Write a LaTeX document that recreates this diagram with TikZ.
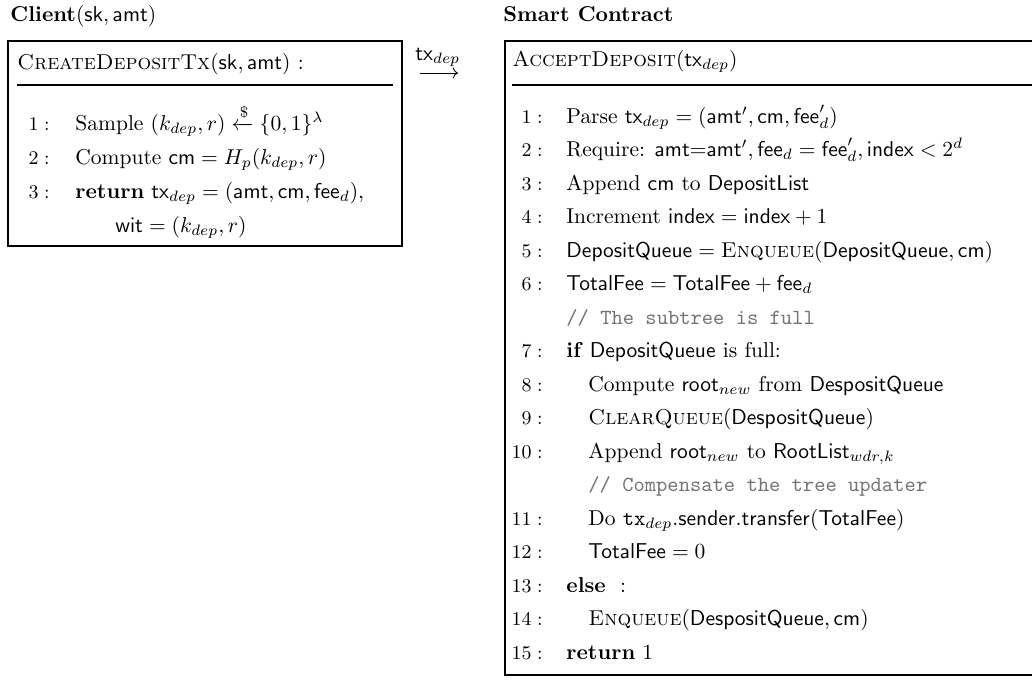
\documentclass[tikz,border=0pt]{standalone}
\usepackage{amsmath}
\usetikzlibrary{arrows.meta}
\begin{document}
\begin{tikzpicture}[x=0.465pt,y=-0.465pt,
  ln/.style={anchor=base west, inner sep=0pt},
  num/.style={anchor=base east, inner sep=0pt, font=\small},
  cmt/.style={anchor=base west, inner sep=0pt, text=black!55, font=\ttfamily},
  frame/.style={draw, line width=0.75pt},
  rulel/.style={draw, line width=0.6pt}]
\clip (0,0) rectangle (1032,680);
% titles
\node[ln] (tc) at (10,21) {\textbf{Client}$(\mathsf{sk}, \mathsf{amt})$};
\node[ln] (ts) at (503,21) {\textbf{Smart Contract}};
% left box
\draw[frame] (8,41) rectangle (402,246);
\node[ln] (lh) at (17,69) {\textsc{CreateDepositTx}$(\mathsf{sk}, \mathsf{amt})$ :};
\draw[rulel] (17,85) -- (393,85);
\node[num] (ln1) at (50,130) {$1:$};
\node[ln] (lt1) at (75,130) {Sample $(k_{dep}, r) \xleftarrow{\$} \{0,1\}^\lambda$};
\node[num] (ln2) at (50,164) {$2:$};
\node[ln] (lt2) at (75,164) {Compute $\mathsf{cm} = H_p(k_{dep}, r)$};
\node[num] (ln3) at (50,198) {$3:$};
\node[ln] (lt3) at (75,198) {\textbf{return} $\mathsf{tx}_{dep} = (\mathsf{amt}, \mathsf{cm}, \mathsf{fee}_d),$};
\node[ln] (lt4) at (115,232) {$\mathsf{wit} = (k_{dep}, r)$};
% arrow
\coordinate (as) at (420,73);
\coordinate (ae) at (458,73);
\draw[->] (as) -- (ae);
\node[ln] (al) at (415,60) {$\mathsf{tx}_{dep}$};
% right box
\draw[frame] (1045,41) -- (505,41) -- (505,675) -- (1045,675);
\node[ln] (rh) at (512,66) {\textsc{AcceptDeposit}$(\mathsf{tx}_{dep})$};
\draw[rulel] (512,85) -- (1045,85);
\node[num] (n1) at (543,123) {$1:$};
\node[ln] (t1) at (566,123) {Parse $\mathsf{tx}_{dep} = (\mathsf{amt}', \mathsf{cm}, \mathsf{fee}'_d)$};
\node[num] (n2) at (543,156) {$2:$};
\node[ln] (t2) at (566,156) {Require: $\mathsf{amt}{=}\mathsf{amt}', \mathsf{fee}_d = \mathsf{fee}'_d, \mathsf{index} < 2^d$};
\node[num] (n3) at (543,190) {$3:$};
\node[ln] (t3) at (566,190) {Append $\mathsf{cm}$ to $\mathsf{DepositList}$};
\node[num] (n4) at (543,223) {$4:$};
\node[ln] (t4) at (566,223) {Increment $\mathsf{index} = \mathsf{index} + 1$};
\node[num] (n5) at (543,257) {$5:$};
\node[ln] (t5) at (566,257) {$\mathsf{DepositQueue} = \textsc{Enqueue}(\mathsf{DepositQueue}, \mathsf{cm})$};
\node[num] (n6) at (543,290) {$6:$};
\node[ln] (t6) at (566,290) {$\mathsf{TotalFee} = \mathsf{TotalFee} + \mathsf{fee}_d$};
\node[cmt] (c1) at (566,324) {// The subtree is full};
\node[num] (n7) at (543,357) {$7:$};
\node[ln] (t7) at (566,357) {\textbf{if} $\mathsf{DepositQueue}$ is full:};
\node[num] (n8) at (543,391) {$8:$};
\node[ln] (t8) at (588,391) {Compute $\mathsf{root}_{new}$ from $\mathsf{DespositQueue}$};
\node[num] (n9) at (543,424) {$9:$};
\node[ln] (t9) at (588,424) {\textsc{ClearQueue}$(\mathsf{DespositQueue})$};
\node[num] (n10) at (543,458) {$10:$};
\node[ln] (t10) at (588,458) {Append $\mathsf{root}_{new}$ to $\mathsf{RootList}_{wdr,k}$};
\node[cmt] (c2) at (588,491) {// Compensate the tree updater};
\node[num] (n11) at (543,525) {$11:$};
\node[ln] (t11) at (588,525) {Do $\mathtt{tx}_{dep}.\mathsf{sender.transfer}(\mathsf{TotalFee})$};
\node[num] (n12) at (543,558) {$12:$};
\node[ln] (t12) at (588,558) {$\mathsf{TotalFee} = 0$};
\node[num] (n13) at (543,592) {$13:$};
\node[ln] (t13) at (566,592) {\textbf{else}\ \ :};
\node[num] (n14) at (543,625) {$14:$};
\node[ln] (t14) at (588,625) {\textsc{Enqueue}$(\mathsf{DespositQueue}, \mathsf{cm})$};
\node[num] (n15) at (543,659) {$15:$};
\node[ln] (t15) at (566,659) {\textbf{return} 1};
\end{tikzpicture}
\end{document}
